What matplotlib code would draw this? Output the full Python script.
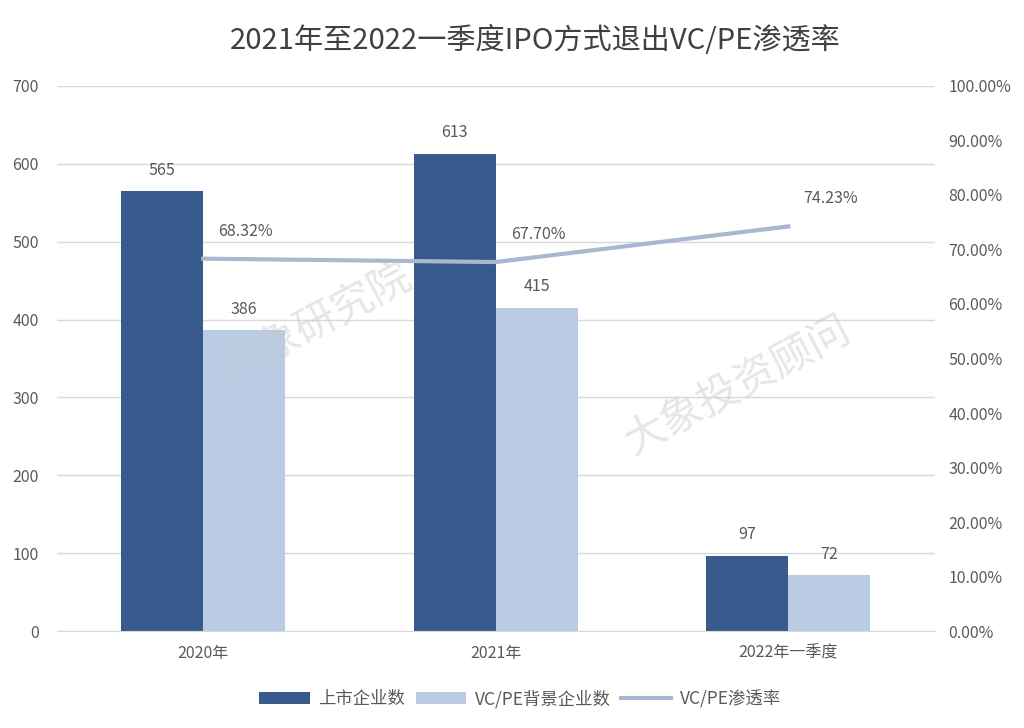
import numpy as np
import matplotlib.pyplot as plt

plt.rcParams['font.family'] = ['Noto Sans CJK SC', 'DejaVu Sans']

categories = ["2020年", "2021年", "2022年一季度"]
listed = [565, 613, 97]
vcpe_backed = [386, 415, 72]
penetration = [0.6832, 0.6770, 0.7423]

dark = "#365b8c"
light = "#b9cce4"
line_c = "#aab7d0"
txt = "#595959"
grid_c = "#d9d9d9"

fig = plt.figure(figsize=(10.24, 7.28), dpi=100)
ax = fig.add_axes([0.0557, 0.1332, 0.857, 0.7487])
ax2 = ax.twinx()

x = np.arange(len(categories))
w = 0.28
b1 = ax.bar(x - w / 2, listed, w, color=dark, label="上市企业数", zorder=2)
b2 = ax.bar(x + w / 2, vcpe_backed, w, color=light, label="VC/PE背景企业数", zorder=2)
ln, = ax2.plot(x, penetration, color=line_c, lw=3, label="VC/PE渗透率", zorder=3)

for rect, v in zip(list(b1) + list(b2), listed + vcpe_backed):
    ax.text(rect.get_x() + rect.get_width() / 2, v + 16, str(v),
            ha="center", va="bottom", fontsize=11.5, color=txt)
for xi, p in zip(x, penetration):
    ax2.text(xi + 0.145, p + 0.035, f"{p * 100:.2f}%", ha="center", va="bottom",
             fontsize=11.5, color=txt)

ax.set_xlim(-0.5, 2.5)
ax.set_ylim(0, 700)
ax.set_yticks(range(0, 701, 100))
ax2.set_ylim(0, 1)
ax2.set_yticks(np.arange(0, 1.01, 0.1))
ax2.set_yticklabels([f"{v * 100:.2f}%" for v in np.arange(0, 1.01, 0.1)])
ax.set_xticks(x)
ax.set_xticklabels(categories)

ax.yaxis.grid(True, color=grid_c, lw=1, zorder=0)
for a in (ax, ax2):
    for s in a.spines.values():
        s.set_visible(False)
    a.tick_params(length=0, labelsize=11.5, labelcolor=txt)
ax.spines["bottom"].set_visible(True)
ax.spines["bottom"].set_color(grid_c)
ax.tick_params(axis="y", pad=13)
ax2.tick_params(axis="y", pad=10)
ax.tick_params(axis="x", pad=10)

# watermarks
fig.text(0.31, 0.555, "大象研究院", fontsize=30, color="#c8c8c8", alpha=0.45,
         rotation=28, ha="center", va="center")
fig.text(0.72, 0.47, "大象投资顾问", fontsize=30, color="#c8c8c8", alpha=0.45,
         rotation=28, ha="center", va="center")

fig.suptitle("2021年至2022一季度IPO方式退出VC/PE渗透率", x=0.523, y=0.965,
             fontsize=21, color="#404040", fontweight="medium")

fig.legend(handles=[b1, b2, ln], loc="center", bbox_to_anchor=(0.508, 0.04),
           ncol=3, frameon=False, fontsize=12.5, labelcolor=txt,
           handlelength=2.9, handleheight=0.6, columnspacing=0.6, handletextpad=0.5)

fig.savefig("out.png", dpi=100, facecolor="white")
